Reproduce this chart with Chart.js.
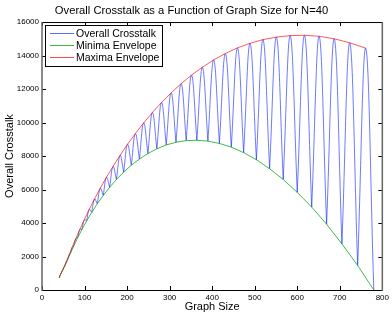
<!DOCTYPE html>
<html><head><meta charset="utf-8">
<script src="https://cdn.jsdelivr.net/npm/chart.js@4/dist/chart.umd.min.js"></script>
<style>html,body{margin:0;padding:0;background:#fff;overflow:hidden}canvas{display:block}</style>
</head><body>
<canvas id="c" width="392" height="316"></canvas>
<script>
const titleText = 'Overall Crosstalk as a Function of Graph Size for N=40';
const xTitle = 'Graph Size';
const yTitle = 'Overall Crosstalk';
const seriesNames = ['Overall Crosstalk', 'Minima Envelope', 'Maxima Envelope'];
const xTicks = [0, 100, 200, 300, 400, 500, 600, 700, 800];
const yTicks = [0, 2000, 4000, 6000, 8000, 10000, 12000, 14000, 16000];

// minima (cusps of the blue curve, on the green envelope)
const minX = [40, 42, 45, 49, 54, 60, 67, 75, 84, 94, 105, 117, 130, 144, 159, 175, 192, 210, 229, 249,
              270, 292, 315, 339, 364, 390, 417, 445, 474, 504, 535, 567, 600, 634, 669, 705, 742, 780];
const minY = [750, 850, 1000, 1200, 1450, 1800, 2200, 2650, 3130, 3620, 4130, 4640, 5150, 5650, 6130, 6600, 7040, 7450, 7820, 8150,
              8430, 8660, 8820, 8920, 8940, 8890, 8750, 8530, 8200, 7780, 7240, 6600, 5830, 4950, 3930, 2750, 1470, 0];
// maxima (tops of the blue teeth, on the red envelope)
const maxX = [41, 43.5, 47, 51.5, 57, 63.5, 71, 79.5, 89, 99.5, 111, 123.5, 137, 151.5, 167, 183.5, 201, 219.5, 239,
              259.5, 281, 303.5, 327, 351.5, 377, 403.5, 431, 459.5, 489, 519.5, 551, 583.5, 617, 651.5, 687, 723.5, 761];
const maxY = [800, 930, 1120, 1360, 1680, 2080, 2550, 3070, 3620, 4200, 4810, 5440, 6080, 6730, 7380, 8040, 8700, 9340, 9980,
              10600, 11200, 11770, 12320, 12830, 13300, 13740, 14120, 14460, 14730, 14950, 15100, 15190, 15210, 15150, 15000, 14760, 14440];

const F = "'Liberation Sans', Arial, Helvetica, sans-serif";
const colors = ['rgba(20,40,255,0.62)', 'rgba(0,165,0,0.75)', 'rgba(255,0,0,0.65)'];
const legendColors = ['#5a6cff', '#3cb83c', '#ff4a4a'];

const bluePts = [];
for (let i = 0; i < minX.length; i++) {
  bluePts.push({x: minX[i], y: minY[i]});
  if (i > 0 && i < minX.length - 1) bluePts.push({x: minX[i], y: minY[i]});
  if (i < maxX.length) bluePts.push({x: maxX[i], y: maxY[i]});
}
const greenPts = minX.map((x, i) => ({x, y: minY[i]}));
const redPts = [{x: minX[0], y: minY[0]}].concat(maxX.map((x, i) => ({x, y: maxY[i]})));

const framePlugin = {
  id: 'frame',
  afterDatasetsDraw(chart) {
    const {ctx, chartArea: a, scales: {x, y}} = chart;
    ctx.save();
    const L = 4;
    ctx.strokeStyle = '#000';
    ctx.lineWidth = 1;
    ctx.beginPath();
    xTicks.forEach(v => {
      const px = Math.round(x.getPixelForValue(v)) + 0.5;
      ctx.moveTo(px, a.bottom); ctx.lineTo(px, a.bottom - L);
      ctx.moveTo(px, a.top); ctx.lineTo(px, a.top + L);
    });
    yTicks.forEach(v => {
      const py = Math.round(y.getPixelForValue(v)) + 0.5;
      ctx.moveTo(a.left, py); ctx.lineTo(a.left + L, py);
      ctx.moveTo(a.right, py); ctx.lineTo(a.right - L, py);
    });
    ctx.stroke();
    ctx.beginPath();
    ctx.moveTo(a.left, a.top + 0.5); ctx.lineTo(a.right, a.top + 0.5);
    ctx.moveTo(a.left, a.bottom + 0.5); ctx.lineTo(a.right, a.bottom + 0.5);
    ctx.stroke();
    ctx.strokeStyle = '#666';
    ctx.lineWidth = 1.5;
    ctx.beginPath();
    ctx.moveTo(a.left, a.top); ctx.lineTo(a.left, a.bottom + 1);
    ctx.moveTo(a.right, a.top); ctx.lineTo(a.right, a.bottom + 1);
    ctx.stroke();
    ctx.restore();
  }
};

const legendPlugin = {
  id: 'boxLegend',
  afterDraw(chart) {
    const {ctx} = chart;
    ctx.save();
    const bx = 45.5, by = 25.5, bw = 117, bh = 41;
    ctx.fillStyle = '#fff';
    ctx.fillRect(bx, by, bw, bh);
    ctx.strokeStyle = '#000';
    ctx.lineWidth = 1;
    ctx.strokeRect(bx, by, bw, bh);
    ctx.font = '10.5px ' + F;
    ctx.textBaseline = 'middle';
    ctx.textAlign = 'left';
    seriesNames.forEach((name, i) => {
      const yy = 33.5 + i * 12;
      ctx.strokeStyle = legendColors[i];
      ctx.lineWidth = 1;
      ctx.beginPath();
      ctx.moveTo(50, yy); ctx.lineTo(74, yy);
      ctx.stroke();
      ctx.fillStyle = '#000';
      ctx.fillText(name, 76, yy + 0.5);
    });
    ctx.restore();
  }
};

new Chart(document.getElementById('c'), {
  type: 'line',
  data: {
    datasets: [
      {label: seriesNames[0], data: bluePts, borderColor: colors[0], borderWidth: 1, pointRadius: 0, tension: 0.4, fill: false, order: 3},
      {label: seriesNames[1], data: greenPts, borderColor: colors[1], borderWidth: 1, pointRadius: 0, tension: 0, fill: false, order: 2},
      {label: seriesNames[2], data: redPts, borderColor: colors[2], borderWidth: 1, pointRadius: 0, tension: 0, fill: false, order: 1}
    ]
  },
  options: {
    responsive: false,
    animation: false,
    devicePixelRatio: 1,
    layout: {padding: {top: 0, right: 9, left: 0, bottom: 0}},
    plugins: {
      legend: {display: false},
      tooltip: {enabled: false},
      title: {display: true, text: titleText, color: '#000',
              font: {family: F, size: 11.2, weight: 'normal'}, padding: {top: 4.3, bottom: 4.3}}
    },
    scales: {
      x: {
        type: 'linear', min: 0, max: 800,
        afterBuildTicks: s => { s.ticks = xTicks.map(v => ({value: v})); },
        afterFit: s => { s.height = 26; },
        ticks: {font: {family: F, size: 8}, color: '#000', padding: 3, maxRotation: 0, autoSkip: false, callback: v => String(v)},
        grid: {display: false, drawTicks: false},
        border: {display: false},
        title: {display: true, text: xTitle, color: '#000', font: {family: F, size: 11}, padding: {top: 0, bottom: 2}}
      },
      y: {
        type: 'linear', min: 0, max: 16000,
        afterBuildTicks: s => { s.ticks = yTicks.map(v => ({value: v})); },
        afterFit: s => { s.width = 42; },
        ticks: {font: {family: F, size: 8}, color: '#000', padding: 3, autoSkip: false, callback: v => String(v)},
        grid: {display: false, drawTicks: false},
        border: {display: false},
        title: {display: true, text: yTitle, color: '#000', font: {family: F, size: 11}, padding: {top: 3, bottom: 0}}
      }
    }
  },
  plugins: [framePlugin, legendPlugin]
});
</script>
</body></html>
